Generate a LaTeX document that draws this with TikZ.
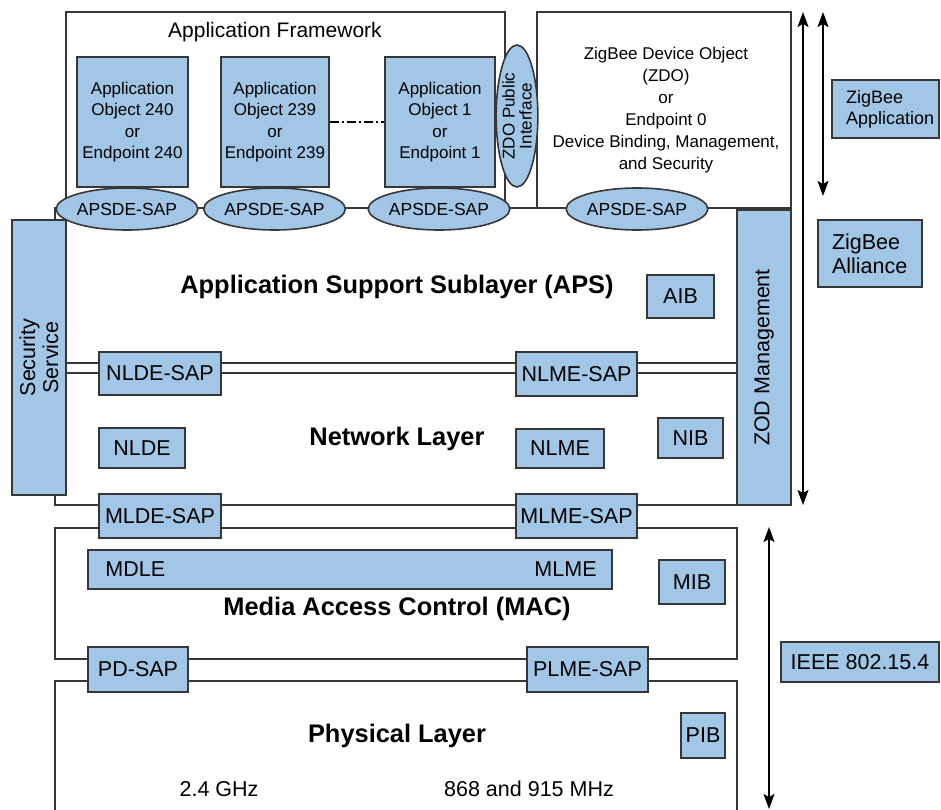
\documentclass[tikz,border=0pt]{standalone}
\usepackage{fontspec}
\setmainfont{Liberation Sans}
\usepackage{tikz}
\usetikzlibrary{shapes,calc,positioning}
\usetikzlibrary{arrows.meta}
\definecolor{zbblue}{RGB}{162,199,230}
\definecolor{zbline}{RGB}{55,55,55}

\begin{document}
\begin{tikzpicture}[x=1pt,y=-1pt,
    blk/.style={draw=zbline,line width=1.6pt,fill=zbblue,inner sep=2pt,
                font=\fontsize{21.5}{25}\selectfont},
    obj/.style={blk,align=center,font=\fontsize{17}{21.5}\selectfont},
    sap/.style={ellipse,draw=zbline,line width=1.6pt,fill=zbblue,inner sep=0pt,
                font=\fontsize{17.5}{20}\selectfont},
    layer/.style={draw=zbline,line width=1.6pt},
    title/.style={font=\fontsize{25.4}{28}\selectfont\bfseries},
    plain/.style={font=\fontsize{21.5}{25}\selectfont},
    span/.style={line width=1.6pt,>={Stealth[length=15pt,width=11pt,inset=3pt]},<->}]
                \useasboundingbox (0,0) rectangle (941,810);
                %Layers
                \draw[layer] (66,12) rectangle (505,208);
                \draw[layer] (537,12) rectangle (791,208);
                \draw[layer] (55,208) rectangle (737,505);
                \draw[layer] (66,363) -- (737,363) (66,373) -- (737,373);
                \draw[layer] (55,528) rectangle (737,659);
                \draw[layer] (55,810) -- (55,681) -- (737,681) -- (737,810);
                %Application framework
                \node[font=\fontsize{21}{24}\selectfont] (appfw) at (275,32) {Application Framework};
                \node[obj,minimum width=111pt,minimum height=130pt] (obj240) at (132.5,122)
                    {Application\\Object 240\\or\\Endpoint 240};
                \node[obj,minimum width=108pt,minimum height=130pt] (obj239) at (275,122)
                    {Application\\Object 239\\or\\Endpoint 239};
                \node[obj,minimum width=110pt,minimum height=130pt] (obj1) at (440,122)
                    {Application\\Object 1\\or\\Endpoint 1};
                \draw[line width=1.2pt,dash pattern=on 9pt off 3pt on 2pt off 3pt] (obj239) -- (obj1);
                \node[sap,rotate=90,minimum width=142pt,minimum height=40pt,align=center,
                      font=\fontsize{17}{17}\selectfont] (zdopub) at (517,116) {ZDO Public\\Interface};
                \node[align=center,font=\fontsize{17}{22}\selectfont] (zdotext) at (666,110)
                    {ZigBee Device Object\\(ZDO)\\or\\Endpoint 0\\Device Binding, Management,\\and Security};
                %SAP ellipses
                \node[sap,minimum width=120pt,minimum height=42pt] (apsde1) at (127,209) {APSDE-SAP};
                \node[sap,minimum width=133pt,minimum height=42pt] (apsde2) at (274.5,209) {APSDE-SAP};
                \node[sap,minimum width=132pt,minimum height=42pt] (apsde3) at (439,209) {APSDE-SAP};
                \node[sap,minimum width=132pt,minimum height=42pt] (apsde4) at (637,209) {APSDE-SAP};
                %Side blocks
                \node[blk,rotate=90,align=center,minimum width=275pt,minimum height=54pt,
                      font=\fontsize{21.5}{23}\selectfont] (secsvc) at (39,357.5) {Security\\Service};
                \node[blk,rotate=90,minimum width=295pt,minimum height=54pt] (zodmgmt) at (764,357.5) {ZOD Management};
                %APS and network layer
                \node[title] (aps) at (397,287) {Application Support Sublayer (APS)};
                \node[blk,minimum width=67pt,minimum height=43pt] (aib) at (680.5,296.5) {AIB};
                \node[blk,minimum width=122pt,minimum height=43pt] (nldesap) at (160,373.5) {NLDE-SAP};
                \node[blk,minimum width=121pt,minimum height=44pt] (nlmesap) at (576.5,374) {NLME-SAP};
                \node[title] (nwk) at (397,439) {Network Layer};
                \node[blk,minimum width=86pt,minimum height=40pt] (nlde) at (142,448) {NLDE};
                \node[blk,minimum width=88pt,minimum height=39pt] (nlme) at (560,448.5) {NLME};
                \node[blk,minimum width=65pt,minimum height=40pt] (nib) at (690.5,438) {NIB};
                \node[blk,minimum width=122pt,minimum height=44pt] (mldesap) at (160,516) {MLDE-SAP};
                \node[blk,minimum width=121pt,minimum height=44pt] (mlmesap) at (576.5,516) {MLME-SAP};
                %MAC
                \node[blk,minimum width=524pt,minimum height=39pt] (macbar) at (350,569.5) {};
                \node[plain,inner sep=0pt,right=18pt of macbar.west] (mdle) {MDLE};
                \node[plain,inner sep=0pt,left=16pt of macbar.east] (mlme) {MLME};
                \node[blk,minimum width=66pt,minimum height=44pt] (mib) at (692,582) {MIB};
                \node[title] (mac) at (397,609) {Media Access Control (MAC)};
                \node[blk,minimum width=100pt,minimum height=45pt] (pdsap) at (138,669.5) {PD-SAP};
                \node[blk,minimum width=121pt,minimum height=45pt] (plmesap) at (587.5,669.5) {PLME-SAP};
                %PHY
                \node[title] (phy) at (397,736) {Physical Layer};
                \node[blk,minimum width=44pt,minimum height=45pt,inner sep=0pt] (pib) at (703,735.5) {PIB};
                \node[plain] (band24) at (219,789) {2.4 GHz};
                \node[plain] (band868) at (529,789) {868 and 915 MHz};
                %Scope labels
                \node[blk,align=left,inner xsep=14pt,text width=79pt,minimum height=58pt,
                      font=\fontsize{18}{21}\selectfont] (zbapp) at (885.5,109) {ZigBee\\Application};
                \node[blk,align=left,inner xsep=14pt,text width=76pt,minimum height=67pt,
                      font=\fontsize{21.5}{24}\selectfont] (zball) at (870,253.5) {ZigBee\\Alliance};
                \node[blk,minimum width=158pt,minimum height=40pt] (ieee) at (860,662) {IEEE 802.15.4};
                %Arrows
                \coordinate (zbtop) at (803,12);
                \coordinate (zbbot) at (803,505);
                \coordinate (apptop) at (823,12);
                \coordinate (appbot) at (823,196);
                \coordinate (ieeetop) at (769,527);
                \coordinate (ieeebot) at (769,809);
                \draw[span] (zbtop) -- (zbbot);
                \draw[span] (apptop) -- (appbot);
                \draw[span] (ieeetop) -- (ieeebot);
\end{tikzpicture}
\end{document}
